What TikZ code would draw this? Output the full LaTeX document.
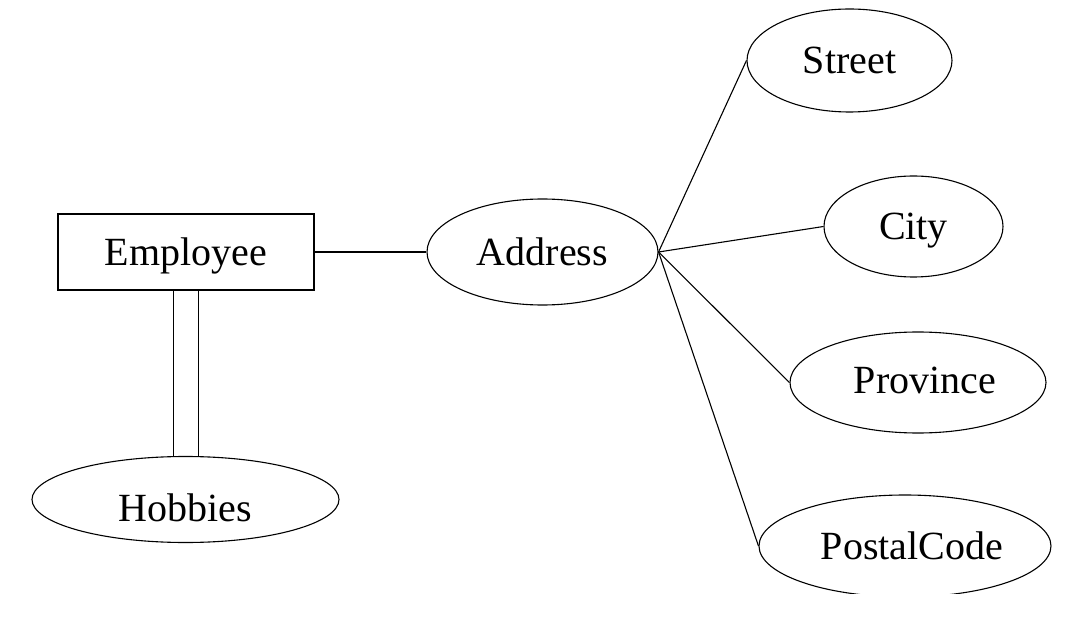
\documentclass[tikz,border=0pt]{standalone}
\usepackage{fontspec}
\setmainfont{Liberation Serif}
\usetikzlibrary{shapes.geometric}
\begin{document}
\begin{tikzpicture}[x=1pt,y=-1pt,
  every node/.style={font=\fontsize{40}{48}\selectfont, inner sep=0pt, text height=27pt, text depth=0pt},
  ent/.style={draw, rectangle, line width=1.1pt},
  attr/.style={draw, ellipse, line width=1.1pt},
  conn/.style={line width=1.1pt}]
\useasboundingbox (0,0) rectangle (1071,620);
\node[ent, minimum width=256pt, minimum height=76pt] (emp) at (186,252) {Employee};
\node[attr, minimum width=307pt, minimum height=86pt] (hob) at (185.5,499.5) {\raisebox{-8pt}{Hobbies}};
\node[attr, minimum width=231pt, minimum height=106pt] (addr) at (542.5,252) {Address};
\node[attr, minimum width=205pt, minimum height=103pt] (street) at (849.5,60.5) {Street};
\node[attr, minimum width=179pt, minimum height=101pt] (city) at (913.5,226.5) {City};
\node[attr, minimum width=256pt, minimum height=101pt] (prov) at (918,382.5) {\hspace*{14pt}\raisebox{2.5pt}{Province}};
\begin{scope}
  \clip (0,0) rectangle (1071,593);
  \node[attr, minimum width=292pt, minimum height=102pt] (postal) at (905,546) {\hspace*{14pt}PostalCode};
\end{scope}
\draw[conn] (emp.east) -- (addr.west);
\draw[conn] ([xshift=-12.5pt]emp.south) -- ([xshift=-12.5pt]emp.south |- hob.north);
\draw[conn] ([xshift=12.5pt]emp.south) -- ([xshift=12.5pt]emp.south |- hob.north);
\draw[conn] (addr.east) -- (street.west);
\draw[conn] (addr.east) -- (city.west);
\draw[conn] (addr.east) -- (prov.west);
\draw[conn] (addr.east) -- (postal.west);
\end{tikzpicture}
\end{document}
